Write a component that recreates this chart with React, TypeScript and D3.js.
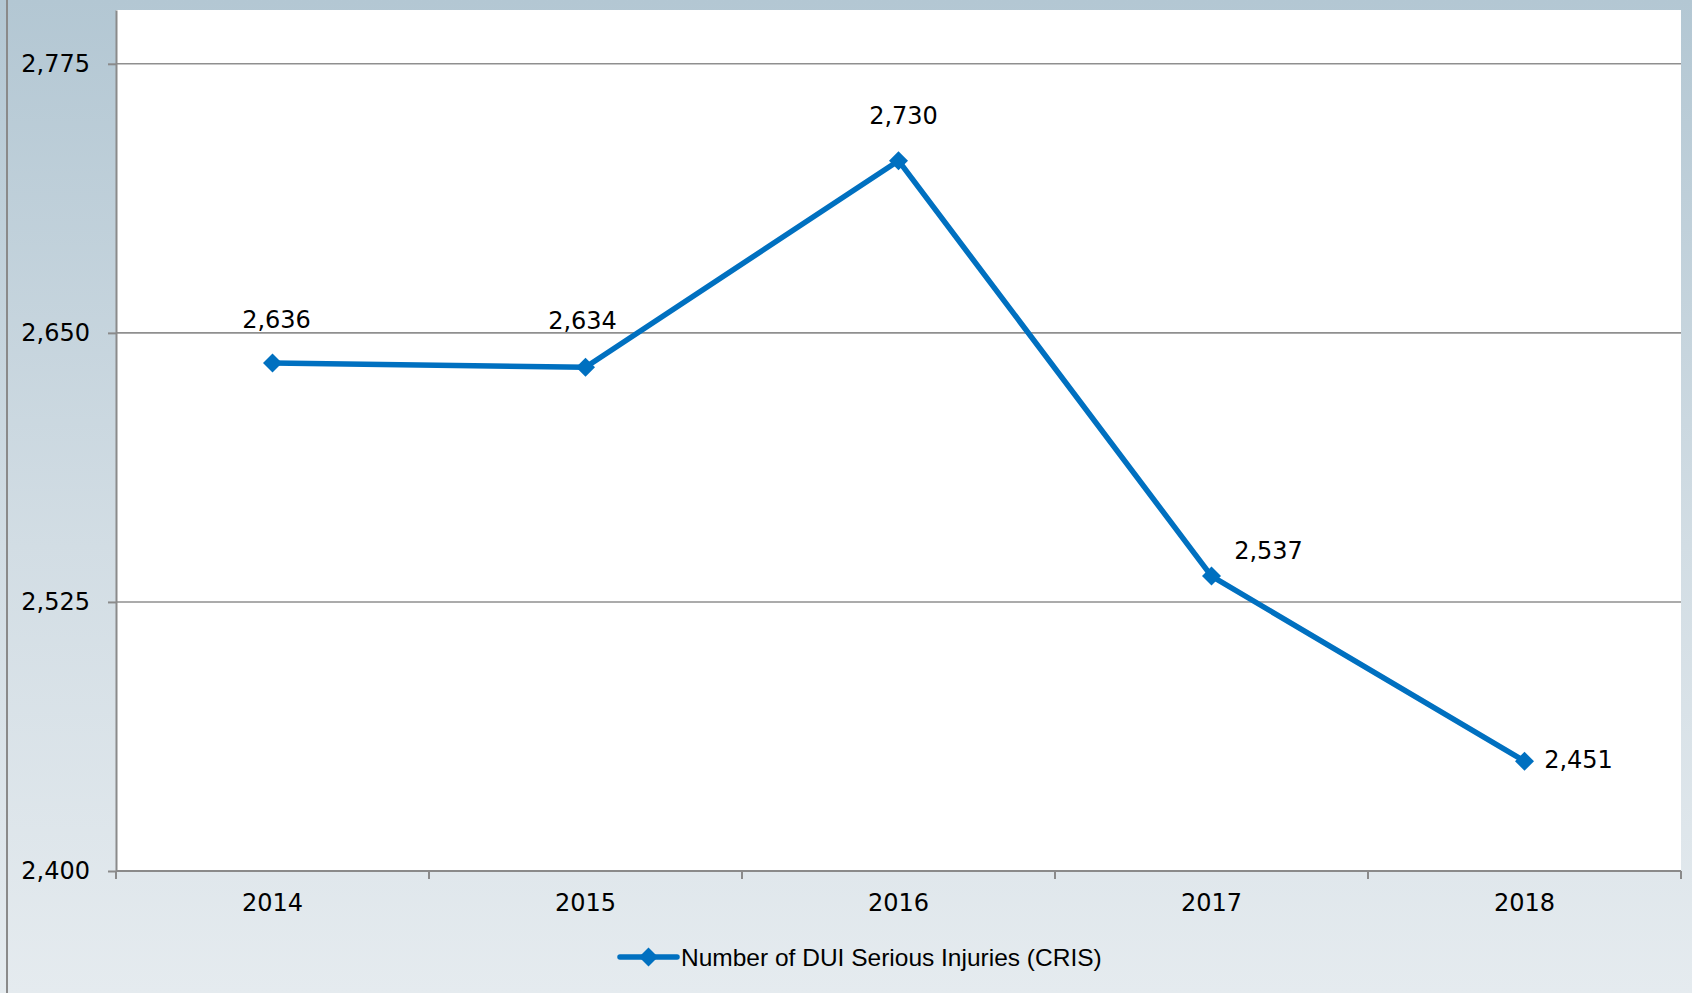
import React, { useEffect, useRef } from 'react';
import * as d3 from 'd3';

const years = ['2014', '2015', '2016', '2017', '2018'];
const injuries = [2636, 2634, 2730, 2537, 2451];
const yTicks = [2400, 2525, 2650, 2775];
const seriesName = 'Number of DUI Serious Injuries (CRIS)';

// where each data label sits relative to its point
const labelOffsets: [number, number][] = [
  [4, -35], [-3, -38], [5, -37], [57, -17], [54, 7],
];

const App: React.FC = () => {
  const svgRef = useRef<SVGSVGElement>(null);

  useEffect(() => {
    if (!svgRef.current) return;
    const width = 1692;
    const height = 993;
    const margin = { top: 10, right: 11, bottom: 122, left: 116 };
    const font = '"Liberation Sans", Arial, sans-serif';
    const numFont = '"DejaVu Sans", sans-serif';
    const blue = '#0070c0';

    const svg = d3.select(svgRef.current)
      .attr('width', width)
      .attr('height', height);
    svg.selectAll('*').remove();

    const defs = svg.append('defs');
    const grad = defs.append('linearGradient')
      .attr('id', 'bg')
      .attr('x1', 0).attr('y1', 0).attr('x2', 0).attr('y2', 1);
    grad.append('stop').attr('offset', '0%').attr('stop-color', '#b3c7d3');
    grad.append('stop').attr('offset', '55%').attr('stop-color', '#d2dde4');
    grad.append('stop').attr('offset', '100%').attr('stop-color', '#e5ebef');

    svg.append('rect')
      .attr('width', width).attr('height', height)
      .attr('fill', 'url(#bg)');

    svg.append('line')
      .attr('x1', 7).attr('x2', 7)
      .attr('y1', 0).attr('y2', height)
      .attr('stroke', '#8a8a8a')
      .attr('stroke-width', 2);

    const x = d3.scaleBand()
      .domain(years)
      .range([margin.left, width - margin.right])
      .padding(0);

    const y = d3.scaleLinear()
      .domain([2400, 2800])
      .range([height - margin.bottom, margin.top]);

    svg.append('rect')
      .attr('x', margin.left)
      .attr('y', margin.top)
      .attr('width', width - margin.right - margin.left)
      .attr('height', height - margin.bottom - margin.top)
      .attr('fill', '#ffffff');

    // gridlines
    svg.append('g')
      .selectAll('line')
      .data(yTicks.slice(1))
      .enter()
      .append('line')
      .attr('x1', margin.left)
      .attr('x2', width - margin.right)
      .attr('y1', d => y(d))
      .attr('y2', d => y(d))
      .attr('stroke', '#8f8f8f')
      .attr('stroke-width', 1.6);

    // y axis
    const yAxis = d3.axisLeft(y)
      .tickValues(yTicks)
      .tickSizeInner(8)
      .tickSizeOuter(0)
      .tickPadding(18)
      .tickFormat(d => d3.format(',')(d as number));

    const yG = svg.append('g')
      .attr('transform', `translate(${margin.left},0)`)
      .call(yAxis);
    yG.select('.domain').attr('stroke', '#8a8a8a').attr('stroke-width', 2);
    yG.selectAll('.tick line').attr('stroke', '#8a8a8a').attr('stroke-width', 2);
    yG.selectAll('text')
      .attr('font-family', numFont)
      .attr('font-size', '24px')
      .attr('fill', '#000');

    // x axis with ticks between categories
    const xG = svg.append('g')
      .attr('transform', `translate(0,${height - margin.bottom})`);
    xG.append('line')
      .attr('x1', margin.left).attr('x2', width - margin.right)
      .attr('stroke', '#8a8a8a').attr('stroke-width', 2);
    const bounds = years.map(d => x(d) as number).concat([width - margin.right]);
    xG.selectAll('.tk')
      .data(bounds)
      .enter()
      .append('line')
      .attr('x1', d => d).attr('x2', d => d)
      .attr('y1', 0).attr('y2', 8)
      .attr('stroke', '#8a8a8a').attr('stroke-width', 2);
    xG.selectAll('.lbl')
      .data(years)
      .enter()
      .append('text')
      .attr('x', d => (x(d) as number) + x.bandwidth() / 2)
      .attr('y', 40)
      .attr('text-anchor', 'middle')
      .attr('font-family', numFont)
      .attr('font-size', '24px')
      .attr('fill', '#000')
      .text(d => d);

    const cx = (i: number) => (x(years[i]) as number) + x.bandwidth() / 2;

    const line = d3.line<number>()
      .x((d, i) => cx(i))
      .y(d => y(d));

    svg.append('path')
      .datum(injuries)
      .attr('d', line)
      .attr('fill', 'none')
      .attr('stroke', blue)
      .attr('stroke-width', 5.5)
      .attr('stroke-linejoin', 'round');

    const diamond = d3.symbol().type(d3.symbolDiamond2).size(230);

    svg.append('g')
      .selectAll('path')
      .data(injuries)
      .enter()
      .append('path')
      .attr('d', diamond)
      .attr('transform', (d, i) => `translate(${cx(i)},${y(d)})`)
      .attr('fill', blue);

    svg.append('g')
      .selectAll('text')
      .data(injuries)
      .enter()
      .append('text')
      .attr('x', (d, i) => cx(i) + labelOffsets[i][0])
      .attr('y', (d, i) => y(d) + labelOffsets[i][1])
      .attr('text-anchor', 'middle')
      .attr('font-family', numFont)
      .attr('font-size', '24px')
      .attr('fill', '#000')
      .text(d => d3.format(',')(d));

    // legend
    const lg = svg.append('g').attr('transform', 'translate(620,957)');
    lg.append('line')
      .attr('x1', 0).attr('x2', 57)
      .attr('stroke', blue).attr('stroke-width', 5.5)
      .attr('stroke-linecap', 'round');
    lg.append('path')
      .attr('d', diamond)
      .attr('transform', 'translate(28.5,0)')
      .attr('fill', blue);
    lg.append('text')
      .attr('x', 61)
      .attr('y', 9)
      .attr('font-family', font)
      .attr('font-size', '24.5px')
      .attr('fill', '#000')
      .text(seriesName);
  }, []);

  return (
    <div style={{ position: 'absolute', left: 0, top: 0 }}>
      <svg ref={svgRef} style={{ display: 'block' }} />
    </div>
  );
};

export default App;
